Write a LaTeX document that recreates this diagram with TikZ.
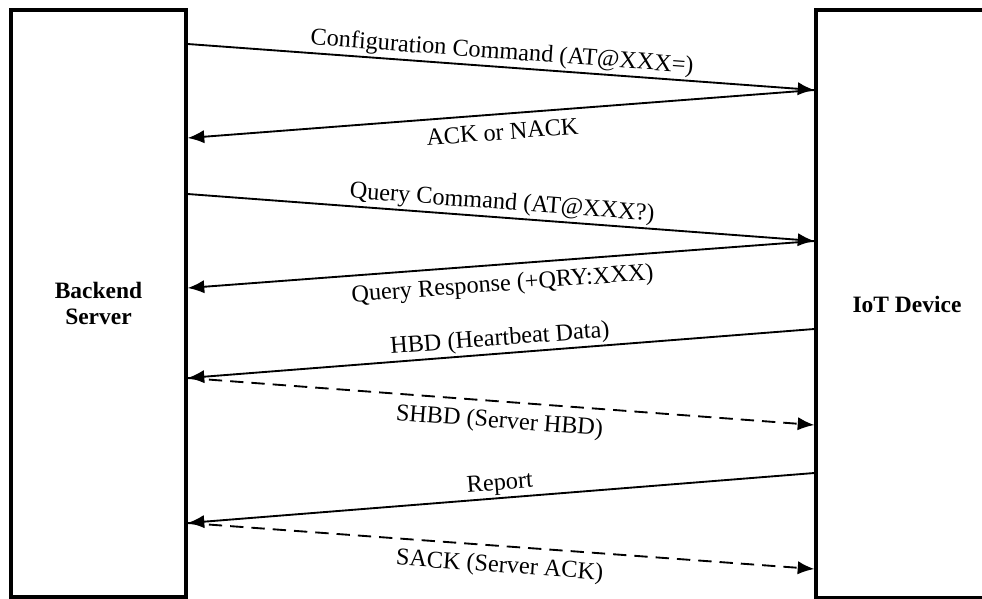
\documentclass[tikz,border=0pt]{standalone}
\usepackage{fontspec}
\setmainfont{Liberation Serif}
\usetikzlibrary{arrows.meta}
\tikzset{
  boite/.style={draw, line width=2.4pt, align=center, font=\fontsize{17.6}{20}\selectfont\bfseries},
  msg/.style={line width=1.4pt, -{Latex[length=12.5pt,width=10pt]}},
  msgpt/.style={msg, dash pattern=on 10pt off 6pt},
  etiq/.style={sloped, inner sep=1.5pt, font=\fontsize{18.2}{20}\selectfont},
  dessous/.style={etiq, below=5pt}
}
\begin{document}
\begin{tikzpicture}[x=0.75pt,y=-0.75pt]
  \useasboundingbox (0,0) rectangle (982,599);
  % Boites
  \node[boite, minimum width=131.25pt, minimum height=440.25pt] (serveur) at (98.5,303.5) {Backend\\Server};
  \node[boite, minimum width=136.5pt, minimum height=441pt] (objet) at (907,304) {IoT Device};

  % Configuration
  \draw[msg] (serveur.east |- 0,44) -- (objet.west |- 0,90) node[etiq, midway, above] {Configuration Command (AT@XXX=)};
  \draw[msg] (objet.west |- 0,90) -- (serveur.east |- 0,138) node[dessous, midway] {ACK or NACK};

  % Requete
  \draw[msg] (serveur.east |- 0,194) -- (objet.west |- 0,241) node[etiq, midway, above] {Query Command (AT@XXX?)};
  \draw[msg] (objet.west |- 0,241) -- (serveur.east |- 0,288) node[dessous, midway] {Query Response (+QRY:XXX)};

  % Battement
  \draw[msg] (objet.west |- 0,329) -- (serveur.east |- 0,378) node[etiq, midway, above] {HBD (Heartbeat Data)};
  \draw[msgpt] (serveur.east |- 0,378) -- (objet.west |- 0,425) node[dessous, midway] {SHBD (Server HBD)};

  % Rapport
  \draw[msg] (objet.west |- 0,473) -- (serveur.east |- 0,523) node[etiq, midway, above] {Report};
  \draw[msgpt] (serveur.east |- 0,523) -- (objet.west |- 0,569) node[dessous, midway] {SACK (Server ACK)};
\end{tikzpicture}
\end{document}
